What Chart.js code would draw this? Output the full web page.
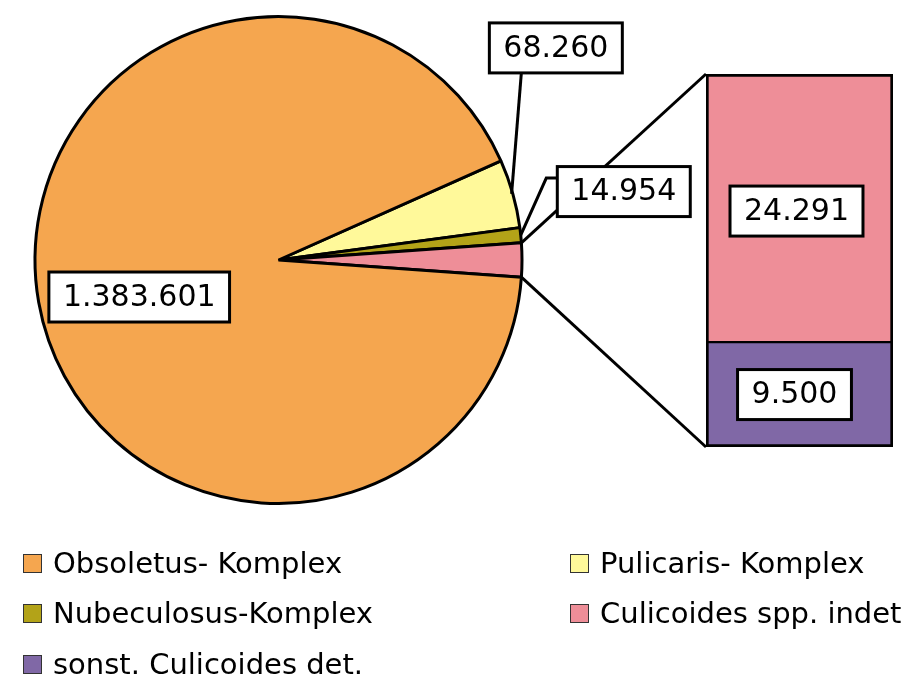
<!DOCTYPE html>
<html><head><meta charset="utf-8">
<script src="https://cdn.jsdelivr.net/npm/chart.js@4.4.0/dist/chart.umd.min.js"></script>
<style>
html,body{margin:0;padding:0;background:#fff;}
#wrap{position:relative;width:912px;height:680px;overflow:hidden;background:#fff;}
#wrap canvas{position:absolute;left:0;top:0;}
#legend{position:absolute;left:0;top:0;width:912px;height:680px;font-family:"DejaVu Sans",sans-serif;font-size:29px;color:#000;pointer-events:none;}
.item{position:absolute;display:flex;align-items:center;height:50px;white-space:nowrap;}
.sw{width:17px;height:17px;border:1.5px solid #333;margin-right:11px;flex:none;}
</style></head><body>
<div id="wrap">
<canvas id="pie" width="912" height="520"></canvas>
<canvas id="bar" width="912" height="520"></canvas>
<div id="legend"></div>
</div>
<script>
// ---- data ----
const categories = ['Obsoletus- Komplex', 'Pulicaris- Komplex', 'Nubeculosus-Komplex', 'Culicoides spp. indet', 'sonst. Culicoides det.'];
const counts = [1383601, 68260, 14954, 24291, 9500];
const colors = ['#F5A64F', '#FFF99A', '#B3A318', '#EE8E98', '#8068A6'];
const countLabels = ['1.383.601', '68.260', '14.954', '24.291', '9.500'];

// pie: Pulicaris, Nubeculosus, (spp. indet + sonst.), Obsoletus
const otherSum = counts[3] + counts[4];
const pieValues = [counts[1], counts[2], otherSum, counts[0]];
const pieColors = [colors[1], colors[2], colors[3], colors[0]];
const pieTotal = pieValues.reduce((a, b) => a + b, 0);
// centre the split-off slice on the 3 o'clock direction
const rotationDeg = 90 - (pieValues[0] + pieValues[1] + pieValues[2] / 2) / pieTotal * 360;

const FONT = '30px "DejaVu Sans", sans-serif';
const LW = 3;

const pieChart = new Chart(document.getElementById('pie'), {
  type: 'pie',
  data: {
    labels: [categories[1], categories[2], 'Culicoides spp.', categories[0]],
    datasets: [{ data: pieValues, backgroundColor: pieColors, borderColor: '#000', borderWidth: LW }]
  },
  options: {
    responsive: false, animation: false, rotation: rotationDeg,
    layout: { padding: { left: 33.5, top: 15, right: 388.5, bottom: 15 } },
    plugins: { legend: { display: false }, tooltip: { enabled: false } }
  }
});

function drawBox(ctx, text, cx, cy) {
  ctx.font = FONT;
  const tw = ctx.measureText(text).width;
  const w = tw + 28, h = 50;
  ctx.fillStyle = '#fff';
  ctx.fillRect(cx - w / 2, cy - h / 2, w, h);
  ctx.strokeStyle = '#000';
  ctx.lineWidth = LW;
  ctx.strokeRect(cx - w / 2, cy - h / 2, w, h);
  ctx.fillStyle = '#000';
  ctx.textAlign = 'center';
  ctx.textBaseline = 'middle';
  ctx.fillText(text, cx, cy + 1);
  return { x: cx - w / 2, y: cy - h / 2, w, h };
}
function line(ctx, pts) {
  ctx.beginPath();
  ctx.moveTo(pts[0][0], pts[0][1]);
  for (let i = 1; i < pts.length; i++) ctx.lineTo(pts[i][0], pts[i][1]);
  ctx.strokeStyle = '#000';
  ctx.lineWidth = LW;
  ctx.stroke();
}

const overlay = {
  id: 'overlay',
  afterDraw(chart) {
    const ctx = chart.ctx;
    const arcs = pieChart.getDatasetMeta(0).data;
    const other = arcs[2];
    const cx = other.x, cy = other.y, r = other.outerRadius;
    const pt = (a, rr) => [cx + rr * Math.cos(a), cy + rr * Math.sin(a)];
    const mid = (arc) => (arc.startAngle + arc.endAngle) / 2;

    const topSeg = chart.getDatasetMeta(1).data[0];
    const botSeg = chart.getDatasetMeta(0).data[0];
    const barLeft = topSeg.x - topSeg.width / 2;

    ctx.save();
    // connector lines pie -> bar
    line(ctx, [pt(other.startAngle, r), [barLeft, topSeg.y]]);
    line(ctx, [pt(other.endAngle, r), [barLeft, botSeg.base]]);

    // Obsoletus label
    drawBox(ctx, countLabels[0], cx - 0.572 * r, cy + 0.152 * r);

    // Pulicaris label with leader
    const pb = { x: cx + 1.139 * r, y: cy - 0.871 * r };
    line(ctx, [[pb.x - 34.5, pb.y + 25], pt(mid(arcs[0]), r * 0.995)]);
    drawBox(ctx, countLabels[1], pb.x, pb.y);

    // Nubeculosus label with leader
    const nb = { x: cx + 1.418 * r, y: cy - 0.281 * r };
    const nLeft = nb.x - 65.5;
    line(ctx, [[nLeft, nb.y - 13.5], [nLeft - 12, nb.y - 13.5], pt(mid(arcs[1]), r)]);
    drawBox(ctx, countLabels[2], nb.x, nb.y);

    // bar segment labels
    drawBox(ctx, countLabels[3], topSeg.x - 3, (topSeg.y + topSeg.base) / 2 + 3);
    drawBox(ctx, countLabels[4], botSeg.x - 5, (botSeg.y + botSeg.base) / 2);
    ctx.restore();
  }
};

new Chart(document.getElementById('bar'), {
  type: 'bar',
  data: {
    labels: [''],
    datasets: [
      { label: categories[4], data: [counts[4]], backgroundColor: colors[4], borderColor: '#000',
        borderWidth: { top: 1.5, left: LW, right: LW, bottom: LW }, borderSkipped: false },
      { label: categories[3], data: [counts[3]], backgroundColor: colors[3], borderColor: '#000',
        borderWidth: { top: LW, left: LW, right: LW, bottom: 1.5 }, borderSkipped: false }
    ]
  },
  options: {
    responsive: false, animation: false,
    layout: { padding: { left: 706, right: 19, top: 74, bottom: 73 } },
    datasets: { bar: { barPercentage: 1, categoryPercentage: 1 } },
    scales: {
      x: { stacked: true, display: false },
      y: { stacked: true, display: false, min: 0, max: otherSum }
    },
    plugins: { legend: { display: false }, tooltip: { enabled: false } }
  },
  plugins: [overlay]
});

// legend (two columns, row-major)
const legend = document.getElementById('legend');
const colX = [23, 570];
const rowY = [563, 613, 664];
categories.forEach((c, i) => {
  const d = document.createElement('div');
  d.className = 'item';
  d.style.left = colX[i % 2] + 'px';
  d.style.top = (rowY[Math.floor(i / 2)] - 25) + 'px';
  const sw = document.createElement('span');
  sw.className = 'sw';
  sw.style.background = colors[i];
  const t = document.createElement('span');
  t.textContent = c;
  d.appendChild(sw); d.appendChild(t);
  legend.appendChild(d);
});
</script>
</body></html>
